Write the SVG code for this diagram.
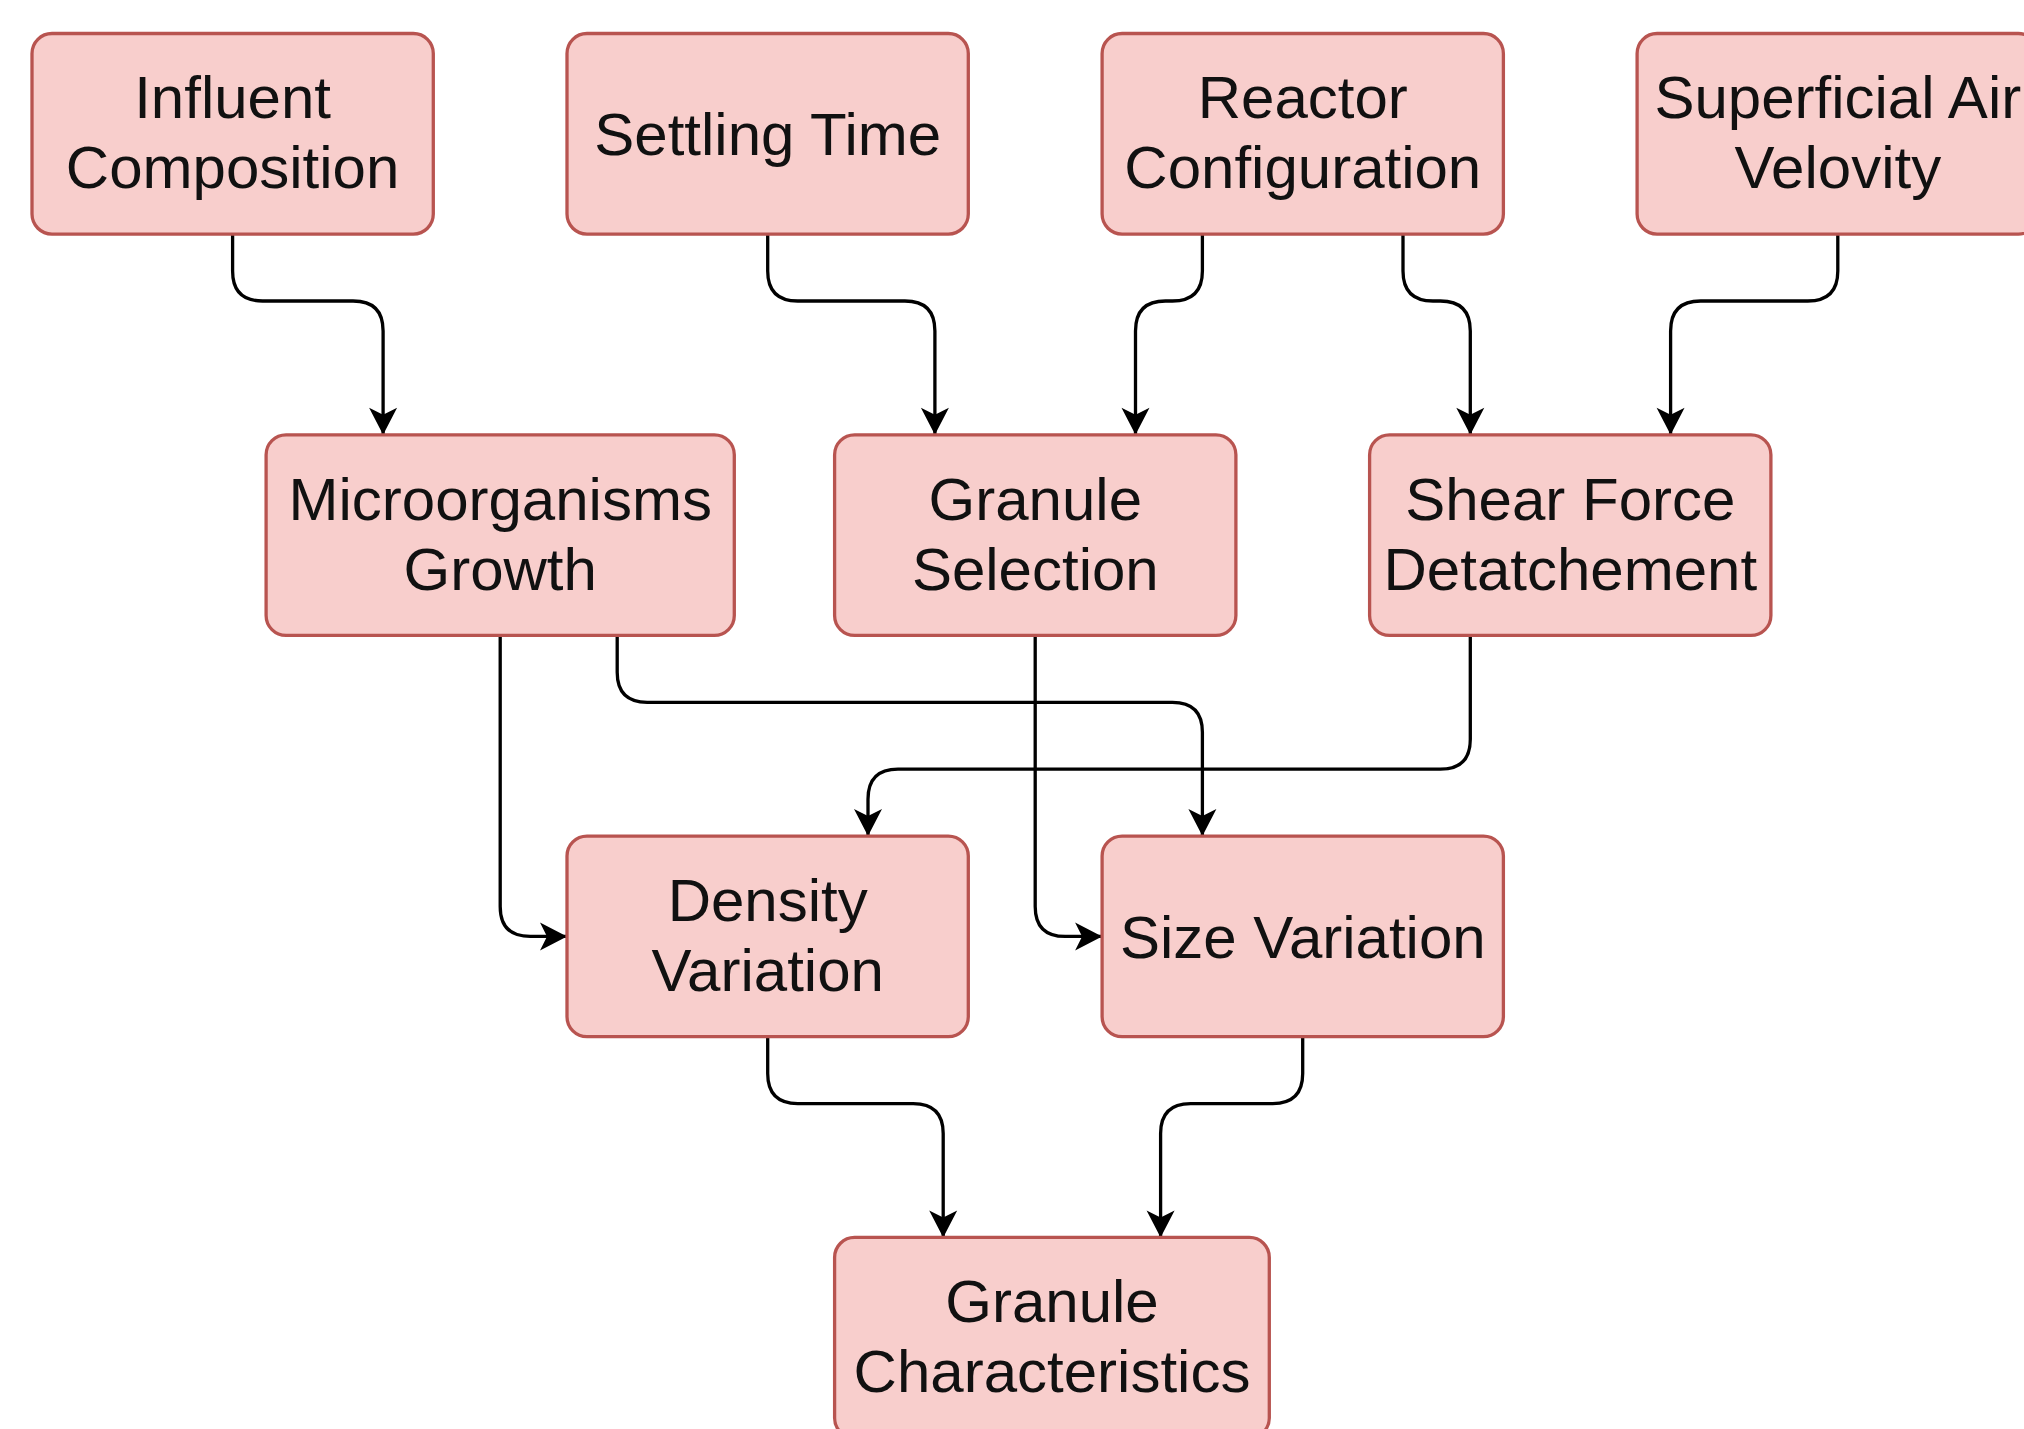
<svg xmlns="http://www.w3.org/2000/svg" width="2024" height="1429" viewBox="0 0 2024 1429">
<style>
  .box rect { fill: #f8cecc; stroke: #b85450; stroke-width: 3.3; }
  .box text { font-family: "Liberation Sans", Arial, Helvetica, sans-serif; font-size: 60px; fill: #111; text-anchor: middle; }
  .edges path { fill: none; stroke: #000; stroke-width: 3.3; marker-end: url(#arr); }
</style>
<defs>
  <marker id="arr" markerUnits="userSpaceOnUse" markerWidth="30" markerHeight="32" viewBox="-28 -16 30 32" refX="0" refY="0" orient="auto" overflow="visible">
    <path d="M0,0 L-27,-14 L-20,0 L-27,14 Z" fill="#000" stroke="none"/>
  </marker>
</defs>
<rect x="0" y="0" width="2024" height="1429" fill="#fff"/>

<g id="edges" class="edges">
  <path d="M232.6,234.1 V271 Q232.6,301 262.6,301 H353.1 Q383.1,301 383.1,331 V434.8"/>
  <path d="M767.7,234.1 V271 Q767.7,301 797.7,301 H904.9 Q934.9,301 934.9,331 V434.8"/>
  <path d="M1202.4,234.1 V271 Q1202.4,301 1172.4,301 H1165.5 Q1135.5,301 1135.5,331 V434.8"/>
  <path d="M1403,234.1 V271 Q1403,301 1433,301 H1440.3 Q1470.3,301 1470.3,331 V434.8"/>
  <path d="M1837.8,234.1 V271 Q1837.8,301 1807.8,301 H1700.6 Q1670.6,301 1670.6,331 V434.8"/>
  <path d="M500.2,635.4 V906.4 Q500.2,936.4 530.2,936.4 H567"/>
  <path d="M617.2,635.4 V672.3 Q617.2,702.3 647.2,702.3 H1172.4 Q1202.4,702.3 1202.4,732.3 V836.1"/>
  <path d="M1470.3,635.4 V739.2 Q1470.3,769.2 1440.3,769.2 H898 Q868,769.2 868,799.2 V836.1"/>
  <path d="M1035.2,635.4 V906.4 Q1035.2,936.4 1065.2,936.4 H1102.1"/>
  <path d="M767.7,1036.7 V1073.6 Q767.7,1103.6 797.7,1103.6 H913.2 Q943.2,1103.6 943.2,1133.6 V1237.4"/>
  <path d="M1302.7,1036.7 V1073.6 Q1302.7,1103.6 1272.7,1103.6 H1190.6 Q1160.6,1103.6 1160.6,1133.6 V1237.4"/>
</g>

<g id="influent" class="box">
  <rect x="32" y="33.5" width="401.3" height="200.6" rx="20"/>
  <text x="232.6" y="118.3">Influent</text>
  <text x="232.6" y="188.3">Composition</text>
</g>
<g id="settling" class="box">
  <rect x="567" y="33.5" width="401.3" height="200.6" rx="20"/>
  <text x="767.7" y="155.3">Settling Time</text>
</g>
<g id="reactor" class="box">
  <rect x="1102.1" y="33.5" width="401.3" height="200.6" rx="20"/>
  <text x="1302.8" y="118.3">Reactor</text>
  <text x="1302.8" y="188.3">Configuration</text>
</g>
<g id="superficial" class="box">
  <rect x="1637.1" y="33.5" width="401.3" height="200.6" rx="20"/>
  <text x="1837.8" y="118.3">Superficial Air</text>
  <text x="1837.8" y="188.3">Velovity</text>
</g>
<g id="micro" class="box">
  <rect x="266.1" y="434.8" width="468.2" height="200.6" rx="20"/>
  <text x="500.2" y="519.6">Microorganisms</text>
  <text x="500.2" y="589.6">Growth</text>
</g>
<g id="granuleSelection" class="box">
  <rect x="834.6" y="434.8" width="401.3" height="200.6" rx="20"/>
  <text x="1035.3" y="519.6">Granule</text>
  <text x="1035.3" y="589.6">Selection</text>
</g>
<g id="shear" class="box">
  <rect x="1369.6" y="434.8" width="401.3" height="200.6" rx="20"/>
  <text x="1570.3" y="519.6">Shear Force</text>
  <text x="1570.3" y="589.6">Detatchement</text>
</g>
<g id="density" class="box">
  <rect x="567" y="836.1" width="401.3" height="200.6" rx="20"/>
  <text x="767.7" y="920.9">Density</text>
  <text x="767.7" y="990.9">Variation</text>
</g>
<g id="size" class="box">
  <rect x="1102.1" y="836.1" width="401.3" height="200.6" rx="20"/>
  <text x="1302.8" y="957.9">Size Variation</text>
</g>
<g id="granuleCharacteristics" class="box">
  <rect x="834.6" y="1237.4" width="434.7" height="200.6" rx="20"/>
  <text x="1052" y="1322.2">Granule</text>
  <text x="1052" y="1392.2">Characteristics</text>
</g>
</svg>
